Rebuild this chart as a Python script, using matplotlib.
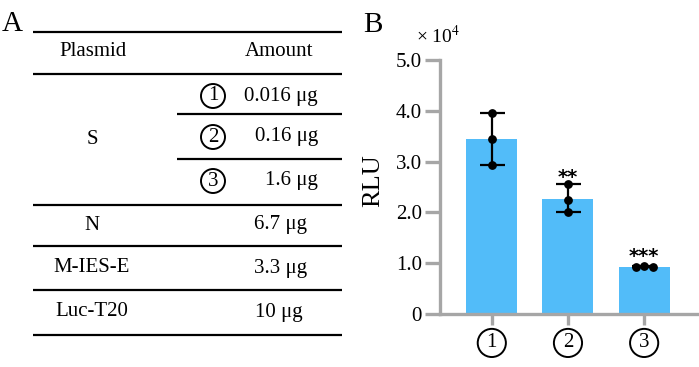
import matplotlib
matplotlib.use("Agg")
import matplotlib.pyplot as plt
import numpy as np

plt.rcParams['font.family'] = ['Liberation Serif', 'DejaVu Serif']
plt.rcParams['mathtext.fontset'] = 'stix'

# ---- data ----
table_header = ["Plasmid", "Amount"]
s_label = "S"
s_doses = ["1", "2", "3"]
s_amounts = ["0.016 μg", "0.16 μg", "1.6 μg"]
other_plasmids = ["N", "M-IES-E", "Luc-T20"]
other_amounts = ["6.7 μg", "3.3 μg", "10 μg"]

groups = ["1", "2", "3"]
replicates = [
    [3.96, 3.44, 2.93],
    [2.55, 2.24, 2.01],
    [0.93, 0.95, 0.92],
]
significance = ["", "**", "***"]
yticks = [0, 1.0, 2.0, 3.0, 4.0, 5.0]
yticklabels = ["0", "1.0", "2.0", "3.0", "4.0", "5.0"]

W, H = 699, 367
fig = plt.figure(figsize=(W / 100, H / 100), dpi=100)

# ---- Panel A: table drawn in pixel coordinates ----
axt = fig.add_axes([0, 0, 1, 1])
axt.set_xlim(0, W)
axt.set_ylim(H, 0)
axt.axis('off')

fs = 15
lw = 1.6
full_lines = [32, 74, 205, 246, 290, 335]
for y in full_lines:
    axt.plot([33, 342], [y, y], color='black', lw=lw, solid_capstyle='butt')
for y in [114, 159]:
    axt.plot([177, 342], [y, y], color='black', lw=lw, solid_capstyle='butt')

axt.text(12, 24, "A", fontsize=21, ha='center', va='center')
axt.text(93, 52, table_header[0], fontsize=fs, ha='center', va='center')
axt.text(279, 52, table_header[1], fontsize=fs, ha='center', va='center')

axt.text(92, 139, s_label, fontsize=fs, ha='center', va='center')
s_rows_y = [96, 137, 181]
for y, d, a in zip(s_rows_y, s_doses, s_amounts):
    axt.text(213, y, d, fontsize=fs, ha='center', va='center',
             bbox=dict(boxstyle='circle,pad=0.12', fc='none', ec='black', lw=1.4))
    axt.text(318, y, a, fontsize=fs, ha='right', va='center')

other_rows_y = [225, 268, 312]
other_x = [281, 281, 279]
for y, p, a, xa in zip(other_rows_y, other_plasmids, other_amounts, other_x):
    axt.text(92, y, p, fontsize=fs, ha='center', va='center')
    axt.text(xa, y, a, fontsize=fs, ha='center', va='center')

# ---- Panel B: bar chart ----
left, right = 440 / W, 1.0
bottom, top = 1 - 314 / H, 1 - 60 / H
ax = fig.add_axes([left, bottom, right - left, top - bottom])

x = np.arange(len(groups))
means = [np.mean(r) for r in replicates]
mins = [min(r) for r in replicates]
maxs = [max(r) for r in replicates]
ax.bar(x, means, width=0.67, color='#52BCF9', zorder=1)
yerr = np.array([np.array(means) - np.array(mins), np.array(maxs) - np.array(means)])
ax.errorbar(x, means, yerr=yerr, fmt='none', ecolor='black', elinewidth=1.6,
            capsize=9, capthick=1.6, zorder=2)
jitter = [[0, 0, 0], [0, 0, 0], [-0.11, 0, 0.11]]
for i, (r, j) in enumerate(zip(replicates, jitter)):
    ax.scatter(np.array(j) + x[i], r, s=28, color='black', zorder=3)
star_offset = [0.15, 0.13, 0.19]
for i, s in enumerate(significance):
    if s:
        ax.text(x[i], maxs[i] + star_offset[i], s, fontsize=14, ha='center', va='center',
                family='DejaVu Sans', fontweight='bold')

ax.set_xlim(-0.68, 2.72)
ax.set_ylim(0, 5.0)
ax.set_yticks(yticks)
ax.set_yticklabels(yticklabels, fontsize=15)
ax.set_xticks(x)
ax.set_xticklabels(groups, fontsize=15)
for lab in ax.get_xticklabels():
    lab.set_bbox(dict(boxstyle='circle,pad=0.22', fc='none', ec='black', lw=1.4))

grey = '#A6A6A6'
for sp in ['top', 'right']:
    ax.spines[sp].set_visible(False)
for sp in ['left', 'bottom']:
    ax.spines[sp].set_color(grey)
    ax.spines[sp].set_linewidth(2.4)
ax.tick_params(axis='y', length=11, width=2.4, color=grey, pad=2)
ax.tick_params(axis='x', length=8, width=2.4, color=grey, pad=6)
ax.set_ylabel("RLU", fontsize=19)
ax.yaxis.set_label_coords(-0.214, 0.524)

fig.text(373 / W, 1 - 25 / H, "B", fontsize=21, ha='center', va='center')
fig.text(416 / W, 1 - 36 / H, "× 10$^{4}$", fontsize=14, ha='left', va='center')

fig.savefig("out.png", dpi=100)
